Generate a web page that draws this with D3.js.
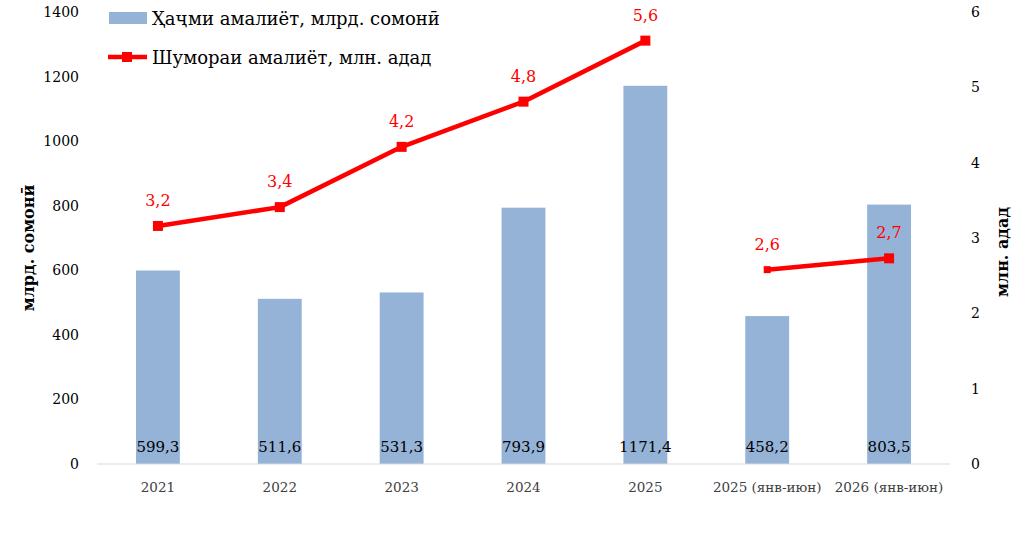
<!DOCTYPE html>
<html>
<head>
<meta charset="utf-8">
<style>
  body { margin: 0; background: #fff; }
  svg { font-family: "DejaVu Serif", "Liberation Serif", serif; }
</style>
</head>
<body>
<div id="chart"></div>
<script src="https://d3js.org/d3.v7.min.js"></script>
<script>
// категорияҳо ва қиматҳо
const categories = ["2021", "2022", "2023", "2024", "2025", "2025 (янв-июн)", "2026 (янв-июн)"];
const volume = [599.3, 511.6, 531.3, 793.9, 1171.4, 458.2, 803.5];   // млрд. сомонӣ
const count = [3.16, 3.41, 4.21, 4.81, 5.62, 2.58, 2.73];            // млн. адад
const lineGroups = [[0, 1, 2, 3, 4], [5, 6]];
const leftTicks = [0, 200, 400, 600, 800, 1000, 1200, 1400];
const rightTicks = [0, 1, 2, 3, 4, 5, 6];
const barName = "Ҳаҷми амалиёт, млрд. сомонӣ";
const lineName = "Шумораи амалиёт, млн. адад";

const width = 1015, height = 555;
const margin = { top: 12, right: 65, bottom: 91, left: 97 };
const innerW = width - margin.left - margin.right;
const innerH = height - margin.top - margin.bottom;

const svg = d3.select("#chart").append("svg")
  .attr("width", width).attr("height", height);
const g = svg.append("g").attr("transform", `translate(${margin.left},${margin.top})`);

const x = d3.scaleBand().domain(categories).range([0, innerW]).paddingInner(0.64).paddingOuter(0.32);
const yL = d3.scaleLinear().domain([0, 1400]).range([innerH, 0]);
const yR = d3.scaleLinear().domain([0, 6]).range([innerH, 0]);
const fmt = v => d3.format(".1f")(v).replace(".", ",");

// бараҳо
g.selectAll("rect.bar").data(volume).enter().append("rect")
  .attr("class", "bar")
  .attr("x", (d, i) => x(categories[i]))
  .attr("y", d => yL(d))
  .attr("width", x.bandwidth())
  .attr("height", d => innerH - yL(d))
  .attr("fill", "#95b3d7");

// хатти асос
g.append("line").attr("x1", 0).attr("x2", innerW).attr("y1", innerH).attr("y2", innerH)
  .attr("stroke", "#d9d9d9").attr("stroke-width", 1);

// тамғаҳои бар
g.selectAll("text.barlab").data(volume).enter().append("text")
  .attr("class", "barlab")
  .attr("x", (d, i) => x(categories[i]) + x.bandwidth() / 2)
  .attr("y", innerH - 12)
  .attr("text-anchor", "middle")
  .attr("font-size", 15).attr("fill", "#000")
  .text(d => fmt(d));

// хат
const cx = i => x(categories[i]) + x.bandwidth() / 2;
const line = d3.line().x(i => cx(i)).y(i => yR(count[i]));
lineGroups.forEach(grp => {
  g.append("path").datum(grp).attr("d", line)
    .attr("fill", "none").attr("stroke", "#ff0000").attr("stroke-width", 4.5)
    .attr("stroke-linejoin", "round");
});
// аввалин нуқтаи гурӯҳи дуюм хурдтар аст
const markSize = i => (i === lineGroups[1][0] ? 7 : 10);
g.selectAll("rect.mark").data(count).enter().append("rect")
  .attr("class", "mark")
  .attr("x", (d, i) => cx(i) - markSize(i) / 2).attr("y", (d, i) => yR(d) - markSize(i) / 2)
  .attr("width", (d, i) => markSize(i)).attr("height", (d, i) => markSize(i)).attr("fill", "#ff0000");
g.selectAll("text.linelab").data(count).enter().append("text")
  .attr("class", "linelab")
  .attr("x", (d, i) => cx(i))
  .attr("y", d => yR(d) - 20)
  .attr("text-anchor", "middle")
  .attr("font-size", 16).attr("fill", "#ff0000")
  .text(d => fmt(d));

// меҳварҳо
const axL = g.append("g").call(d3.axisLeft(yL).tickValues(leftTicks).tickFormat(d3.format("d"))
  .tickSize(0).tickPadding(18));
axL.select(".domain").remove();
axL.selectAll("text").attr("font-size", 14).attr("fill", "#000").attr("font-family", "DejaVu Serif");

const axR = g.append("g").attr("transform", `translate(${innerW},0)`)
  .call(d3.axisRight(yR).tickValues(rightTicks).tickFormat(d3.format("d")).tickSize(0).tickPadding(21));
axR.select(".domain").remove();
axR.selectAll("text").attr("font-size", 14).attr("fill", "#000").attr("font-family", "DejaVu Serif");

const axB = g.append("g").attr("transform", `translate(0,${innerH})`)
  .call(d3.axisBottom(x).tickSize(0).tickPadding(18));
axB.select(".domain").remove();
axB.selectAll("text").attr("font-size", 13.5).attr("fill", "#404040").attr("font-family", "DejaVu Serif");

// номи меҳварҳо
svg.append("text")
  .attr("transform", `translate(34,${margin.top + innerH / 2 + 10}) rotate(-90)`)
  .attr("text-anchor", "middle").attr("font-size", 16).attr("font-weight", "bold")
  .text("млрд. сомонӣ");
svg.append("text")
  .attr("transform", `translate(1008,${margin.top + innerH / 2 + 14}) rotate(-90)`)
  .attr("text-anchor", "middle").attr("font-size", 16).attr("font-weight", "bold")
  .text("млн. адад");

// легенда
const lg = svg.append("g").attr("transform", "translate(108,0)");
lg.append("rect").attr("x", 1).attr("y", 12).attr("width", 38).attr("height", 12).attr("fill", "#95b3d7");
lg.append("text").attr("x", 44).attr("y", 25).attr("font-size", 18).text(barName);
lg.append("line").attr("x1", 0).attr("x2", 39).attr("y1", 57).attr("y2", 57)
  .attr("stroke", "#ff0000").attr("stroke-width", 4.5);
lg.append("rect").attr("x", 14).attr("y", 52).attr("width", 10).attr("height", 10).attr("fill", "#ff0000");
lg.append("text").attr("x", 44).attr("y", 64).attr("font-size", 18).text(lineName);
</script>
</body>
</html>
